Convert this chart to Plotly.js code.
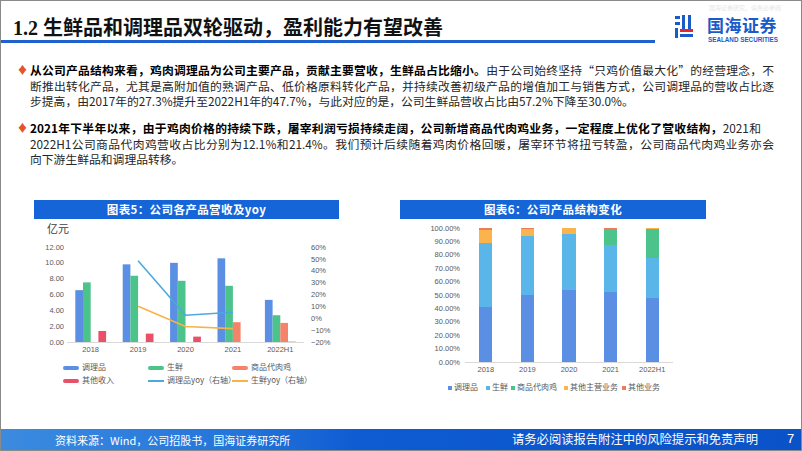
<!DOCTYPE html>
<html><head><meta charset="utf-8">
<script src="https://cdn.plot.ly/plotly-3.0.1.min.js"></script>
<style>
html,body{margin:0;padding:0;}
body{width:802px;height:451px;position:relative;overflow:hidden;background:#fff;font-family:"Noto Sans CJK SC","Noto Sans",sans-serif;}
.abs{position:absolute;white-space:nowrap;}
#frame{position:absolute;left:0;top:0;width:800px;height:449px;border:1px solid #8a8a8a;pointer-events:none;z-index:10;}
.ln{position:absolute;left:30px;font-size:11.8px;color:#262626;white-space:nowrap;line-height:15.5px;height:15.5px;}
.just{width:744px;text-align:justify;text-align-last:justify;white-space:normal;}
.b{font-weight:bold;color:#000;}
.dia{position:absolute;left:17px;color:#E5532A;font-size:11px;line-height:15.5px;}
.banner{position:absolute;height:19px;background:#1565D8;color:#fff;font-weight:bold;font-size:11.5px;line-height:19px;text-align:center;letter-spacing:0.4px;}
.lg{position:absolute;font-size:8px;color:#595959;line-height:10px;white-space:nowrap;}
.sw{display:inline-block;vertical-align:middle;}
</style></head>
<body>
<div id="frame"></div>
<!-- header -->
<div class="abs" style="left:13px;top:13px;font-size:20px;font-weight:bold;color:#111;line-height:28px;"><span style="font-family:'Liberation Serif',serif;">1.2 </span>生鲜品和调理品双轮驱动，盈利能力有望改善</div>
<div class="abs" style="left:0;top:40px;width:655px;height:3px;background:#1F62CF;"></div>
<div class="abs" style="left:709px;top:4px;font-size:6px;color:#e6e6e6;line-height:7px;">国海证券研究，请务必参阅</div>
<!-- logo icon -->
<div class="abs" style="left:675px;top:16px;width:5px;height:3px;background:#1A5BC8;"></div>
<div class="abs" style="left:675px;top:22px;width:5px;height:3px;background:#1A5BC8;"></div>
<div class="abs" style="left:675px;top:28px;width:3px;height:10px;background:#1A5BC8;"></div>
<div class="abs" style="left:682px;top:15px;width:3px;height:14px;background:#1A5BC8;"></div>
<div class="abs" style="left:688px;top:15px;width:3px;height:14px;background:#1A5BC8;"></div>
<div class="abs" style="left:680px;top:29px;width:13px;height:3px;background:#E3262E;"></div>
<div class="abs" style="left:680px;top:34px;width:13px;height:3px;background:#1A5BC8;"></div>
<div class="abs" style="left:707px;top:15px;font-size:17px;font-weight:bold;color:#1A5BC8;line-height:20px;letter-spacing:0.5px;">国海证券</div>
<div class="abs" style="left:708px;top:36px;font-size:6.3px;font-weight:bold;color:#1A5BC8;font-family:'Liberation Sans',Arial,sans-serif;line-height:7px;">SEALAND SECURITIES</div>

<!-- bullets -->
<div class="dia" style="top:62.25px;">♦</div>
<div class="ln just" style="top:62.25px;"><span class="b">从公司产品结构来看，鸡肉调理品为公司主要产品，贡献主要营收，生鲜品占比缩小。</span>由于公司始终坚持“只鸡价值最大化”的经营理念，不</div>
<div class="ln just" style="top:77.75px;">断推出转化产品，尤其是高附加值的熟调产品、低价格原料转化产品，并持续改善初级产品的增值加工与销售方式，公司调理品的营收占比逐</div>
<div class="ln" style="top:93.25px;">步提高，由2017年的27.3%提升至2022H1年的47.7%，与此对应的是，公司生鲜品营收占比由57.2%下降至30.0%。</div>
<div class="dia" style="top:120.25px;">♦</div>
<div class="ln" style="top:120.25px;width:731px;text-align:justify;text-align-last:justify;white-space:normal;"><span class="b">2021年下半年以来，由于鸡肉价格的持续下跌，屠宰利润亏损持续走阔，公司新增商品代肉鸡业务，一定程度上优化了营收结构，</span>2021和</div>
<div class="ln just" style="top:135.75px;">2022H1公司商品代肉鸡营收占比分别为12.1%和21.4%。我们预计后续随着鸡肉价格回暖，屠宰环节将扭亏转盈，公司商品代肉鸡业务亦会</div>
<div class="ln" style="top:151.25px;">向下游生鲜品和调理品转移。</div>

<!-- banners -->
<div class="banner" style="left:34px;top:200px;width:305px;">图表5：公司各产品营收及yoy</div>
<div class="banner" style="left:400px;top:200px;width:306px;">图表6：公司产品结构变化</div>
<div class="abs" style="left:47px;top:221px;font-size:11px;color:#404040;line-height:14px;">亿元</div>

<div id="c5" class="abs" style="left:30px;top:232px;width:330px;height:128px;"></div>
<div id="c6" class="abs" style="left:390px;top:220px;width:320px;height:160px;"></div>

<!-- legend chart 5 -->
<div class="lg" style="left:63px;top:362px;"><span class="sw" style="width:16px;height:4px;border-radius:2px;background:#5B8FE3;margin-right:3px;"></span>调理品</div>
<div class="lg" style="left:148px;top:362px;"><span class="sw" style="width:16px;height:4px;border-radius:2px;background:#4CC38A;margin-right:3px;"></span>生鲜</div>
<div class="lg" style="left:232px;top:362px;"><span class="sw" style="width:16px;height:4px;border-radius:2px;background:#F4836A;margin-right:3px;"></span>商品代肉鸡</div>
<div class="lg" style="left:63px;top:375px;"><span class="sw" style="width:16px;height:4px;border-radius:2px;background:#E9506A;margin-right:3px;"></span>其他收入</div>
<div class="lg" style="left:148px;top:375px;"><span class="sw" style="width:16px;height:1.5px;background:#4BA9DE;margin-right:3px;"></span>调理品yoy（右轴）</div>
<div class="lg" style="left:232px;top:375px;"><span class="sw" style="width:16px;height:1.5px;background:#F7B347;margin-right:3px;"></span>生鲜yoy（右轴）</div>

<!-- legend chart 6 -->
<div class="lg" style="left:448px;top:382px;"><span class="sw" style="width:4px;height:4px;background:#5B8FE3;margin-right:2px;"></span>调理品</div>
<div class="lg" style="left:486px;top:382px;"><span class="sw" style="width:4px;height:4px;background:#5AB5E8;margin-right:2px;"></span>生鲜</div>
<div class="lg" style="left:511px;top:382px;"><span class="sw" style="width:4px;height:4px;background:#4CC38A;margin-right:2px;"></span>商品代肉鸡</div>
<div class="lg" style="left:564px;top:382px;"><span class="sw" style="width:4px;height:4px;background:#FBB34B;margin-right:2px;"></span>其他主营业务</div>
<div class="lg" style="left:622px;top:382px;"><span class="sw" style="width:4px;height:4px;background:#EE7B5E;margin-right:2px;"></span>其他业务</div>

<!-- footer -->
<div class="abs" style="left:0;top:429px;width:802px;height:22px;background:linear-gradient(to right,#3C8BE0 0%,#2474DA 30%,#0E5BD2 45%,#0A52C8 100%);"></div>
<div class="abs" style="left:55px;top:432px;font-size:11px;color:#fff;line-height:16px;">资料来源：Wind，公司招股书，国海证券研究所</div>
<div class="abs" style="left:512px;top:431px;font-size:12.3px;color:#fff;line-height:17px;">请务必阅读报告附注中的风险提示和免责声明</div>
<div class="abs" style="left:787px;top:430px;font-size:13px;color:#fff;line-height:18px;font-family:'Liberation Sans',Arial,sans-serif;">7</div>

<script>
// ---- Chart 5 data ----
var years = ['2018','2019','2020','2021','2022H1'];
var tiaoli = [6.55, 9.81, 10.00, 10.57, 5.32];
var shengxian = [7.53, 8.37, 7.73, 7.10, 3.38];
var roujijia = [null, null, null, 2.50, 2.41];
var qitashouru = [1.39, 1.06, 0.68, null, 0.04];
var yoyYears = ['2019','2020','2021'];
var tiaoliYoy = [0.484, 0.025, 0.051];
var shengxianYoy = [0.101, -0.070, -0.087];

// ---- Chart 6 data (share of revenue) ----
var s_tiaoli = [0.410, 0.500, 0.5375, 0.520, 0.477];
var s_shengxian = [0.480, 0.4375, 0.420, 0.350, 0.300];
var s_rouji = [0, 0, 0, 0.121, 0.214];
var s_qitazhuying = [0.093, 0.0575, 0.0425, 0.005, 0.009];
var s_qitayewu = [0.017, 0.005, 0.000, 0.004, 0.000];

var tickFont = {family:'Liberation Sans, Arial, sans-serif', size:7.5, color:'#595959'};

var t5 = [
  {type:'bar', name:'调理品', x:years, y:tiaoli, marker:{color:'#5B8FE3'}},
  {type:'bar', name:'生鲜', x:years, y:shengxian, marker:{color:'#4CC38A'}},
  {type:'bar', name:'商品代肉鸡', x:years, y:roujijia, marker:{color:'#F4836A'}},
  {type:'bar', name:'其他收入', x:years, y:qitashouru, marker:{color:'#E9506A'}},
  {type:'scatter', mode:'lines', name:'调理品yoy（右轴）', x:yoyYears, y:tiaoliYoy, yaxis:'y2', line:{color:'#4BA9DE', width:1.6}},
  {type:'scatter', mode:'lines', name:'生鲜yoy（右轴）', x:yoyYears, y:shengxianYoy, yaxis:'y2', line:{color:'#F7B347', width:1.6}}
];
var l5 = {
  width:330, height:128, margin:{l:37, r:56, t:15, b:18.3, pad:0},
  paper_bgcolor:'rgba(0,0,0,0)', plot_bgcolor:'rgba(0,0,0,0)',
  showlegend:false, barmode:'group', bargap:0.35, bargroupgap:0,
  font:tickFont,
  xaxis:{type:'category', showline:true, linecolor:'#d9d9d9', linewidth:1, ticks:'', showgrid:false, tickfont:tickFont, fixedrange:true},
  yaxis:{range:[0,12], dtick:2, tickformat:'.2f', showgrid:false, zeroline:false, showline:false, tickfont:tickFont, ticklabelstandoff:2},
  yaxis2:{range:[-0.2,0.6], dtick:0.1, tickformat:'.0%', overlaying:'y', side:'right', showgrid:false, zeroline:false, showline:false, tickfont:tickFont, ticklabelstandoff:6}
};
Plotly.newPlot('c5', t5, l5, {staticPlot:true, displayModeBar:false});

var t6 = [
  {type:'bar', name:'调理品', x:years, y:s_tiaoli, marker:{color:'#5B8FE3'}},
  {type:'bar', name:'生鲜', x:years, y:s_shengxian, marker:{color:'#5AB5E8'}},
  {type:'bar', name:'商品代肉鸡', x:years, y:s_rouji, marker:{color:'#4CC38A'}},
  {type:'bar', name:'其他主营业务', x:years, y:s_qitazhuying, marker:{color:'#FBB34B'}},
  {type:'bar', name:'其他业务', x:years, y:s_qitayewu, marker:{color:'#EE7B5E'}}
];
var l6 = {
  width:320, height:160, margin:{l:75, r:37, t:8.3, b:18.3, pad:0},
  paper_bgcolor:'rgba(0,0,0,0)', plot_bgcolor:'rgba(0,0,0,0)',
  showlegend:false, barmode:'stack', bargap:0.68,
  font:tickFont,
  xaxis:{type:'category', showline:true, linecolor:'#d9d9d9', linewidth:1, ticks:'', showgrid:false, tickfont:tickFont},
  yaxis:{range:[0,1], dtick:0.1, tickformat:'.2%', showgrid:false, zeroline:false, showline:false, tickfont:tickFont, ticklabelstandoff:4}
};
Plotly.newPlot('c6', t6, l6, {staticPlot:true, displayModeBar:false});
</script>
</body></html>
